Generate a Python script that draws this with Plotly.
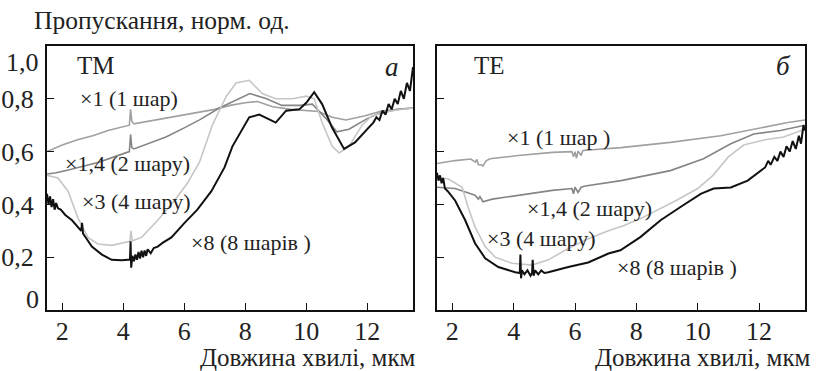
import plotly.graph_objects as go

# ---------------- data ----------------
# Panel a (TM)
tm1_x = [1.5, 2.0, 2.5, 3.0, 3.5, 4.0, 4.2, 4.24, 4.28, 4.35, 4.6, 5.0, 5.5, 6.0, 6.5, 7.0, 7.5, 8.0, 8.4, 8.9, 9.5, 10.0, 10.4, 10.85, 11.3, 11.9, 12.5, 13.0, 13.5]
tm1_y = [0.60, 0.625, 0.645, 0.66, 0.68, 0.695, 0.70, 0.76, 0.715, 0.705, 0.71, 0.72, 0.73, 0.74, 0.75, 0.76, 0.775, 0.785, 0.79, 0.77, 0.76, 0.757, 0.752, 0.73, 0.72, 0.735, 0.755, 0.76, 0.765]

tm2_x = [1.5, 1.8, 2.2, 2.7, 3.2, 3.7, 4.2, 4.24, 4.28, 4.35, 4.7, 5.4, 6.0, 6.5, 7.15, 7.6, 8.15, 8.7, 9.2, 9.8, 10.2, 10.65, 11.0, 11.4, 12.0, 12.4, 13.0, 13.5]
tm2_y = [0.515, 0.52, 0.53, 0.545, 0.56, 0.58, 0.60, 0.665, 0.615, 0.61, 0.625, 0.655, 0.69, 0.72, 0.765, 0.79, 0.82, 0.80, 0.775, 0.775, 0.78, 0.725, 0.675, 0.685, 0.725, 0.745, 0.76, 0.765]

tm4_x = [1.5, 1.86, 2.19, 2.51, 2.84, 3.17, 3.62, 4.15, 4.22, 4.25, 4.3, 4.6, 5.13, 5.68, 6.1, 6.5, 6.92, 7.38, 7.7, 8.13, 8.56, 9.0, 9.54, 10.0, 10.26, 10.52, 10.85, 11.08, 11.4, 11.83, 12.15, 12.8, 13.5]
tm4_y = [0.51, 0.50, 0.45, 0.35, 0.275, 0.25, 0.245, 0.257, 0.26, 0.30, 0.262, 0.275, 0.34, 0.415, 0.48, 0.56, 0.70, 0.81, 0.86, 0.87, 0.82, 0.80, 0.80, 0.81, 0.80, 0.71, 0.62, 0.595, 0.62, 0.70, 0.735, 0.755, 0.765]

tm8_x = [1.5, 1.55, 1.6, 1.65, 1.7, 1.75, 1.8, 1.86, 1.95, 2.1, 2.32, 2.62, 2.65, 2.68, 2.97, 3.3, 3.62, 3.95, 4.15, 4.22, 4.24, 4.26, 4.3, 4.35, 4.4, 4.45, 4.5, 4.55, 4.6, 4.65, 4.7, 4.75, 4.8, 4.9, 5.0, 5.13, 5.3, 5.58, 6.01, 6.43, 6.89, 7.32, 7.58, 8.13, 8.46, 9.0, 9.34, 9.77, 10.0, 10.26, 10.52, 10.85, 11.24, 11.6, 12.0, 12.2, 12.3, 12.4, 12.5, 12.6, 12.7, 12.8, 12.9, 13.0, 13.1, 13.2, 13.3, 13.4, 13.5]
tm8_y = [0.44, 0.40, 0.43, 0.39, 0.42, 0.38, 0.405, 0.385, 0.38, 0.36, 0.34, 0.30, 0.33, 0.29, 0.24, 0.21, 0.19, 0.188, 0.19, 0.19, 0.26, 0.16, 0.205, 0.185, 0.21, 0.19, 0.22, 0.195, 0.225, 0.20, 0.225, 0.205, 0.23, 0.215, 0.235, 0.24, 0.255, 0.275, 0.33, 0.38, 0.45, 0.54, 0.62, 0.73, 0.74, 0.71, 0.755, 0.76, 0.785, 0.825, 0.78, 0.69, 0.61, 0.635, 0.685, 0.71, 0.73, 0.72, 0.755, 0.74, 0.78, 0.76, 0.80, 0.78, 0.83, 0.80, 0.86, 0.83, 0.92]

# Panel б (TE)
te1_x = [1.5, 2.09, 2.6, 2.75, 2.8, 2.85, 2.95, 3.0, 3.1, 3.23, 4.15, 5.26, 5.9, 5.95, 6.0, 6.05, 6.1, 6.2, 6.25, 6.34, 7.5, 9.11, 10.75, 12.06, 12.94, 13.5]
te1_y = [0.555, 0.566, 0.572, 0.56, 0.57, 0.55, 0.55, 0.545, 0.565, 0.573, 0.585, 0.597, 0.60, 0.58, 0.60, 0.575, 0.602, 0.585, 0.603, 0.605, 0.615, 0.635, 0.66, 0.69, 0.71, 0.72]

te2_x = [1.5, 2.09, 2.74, 2.85, 2.9, 3.0, 3.3, 4.15, 5.26, 5.9, 5.95, 6.0, 6.1, 6.2, 6.34, 7.5, 9.11, 10.19, 11.08, 11.83, 12.7, 13.5]
te2_y = [0.465, 0.46, 0.435, 0.42, 0.43, 0.41, 0.42, 0.434, 0.453, 0.46, 0.44, 0.465, 0.445, 0.465, 0.47, 0.49, 0.528, 0.573, 0.63, 0.667, 0.68, 0.70]

te4_x = [1.5, 1.86, 2.32, 2.51, 2.74, 3.07, 3.4, 3.95, 4.6, 5.13, 5.78, 6.43, 7.09, 7.6, 8.2, 9.3, 10.0, 10.5, 11.0, 11.5, 12.2, 12.8, 13.5]
te4_y = [0.50, 0.497, 0.465, 0.39, 0.315, 0.24, 0.20, 0.177, 0.17, 0.19, 0.233, 0.27, 0.30, 0.32, 0.35, 0.415, 0.46, 0.51, 0.58, 0.625, 0.645, 0.655, 0.685]

te8_x = [1.5, 1.55, 1.6, 1.65, 1.7, 1.76, 1.85, 2.09, 2.42, 2.74, 3.07, 3.5, 4.05, 4.2, 4.22, 4.24, 4.27, 4.35, 4.45, 4.55, 4.6, 4.62, 4.65, 4.7, 4.8, 4.9, 5.0, 5.13, 5.78, 6.43, 7.09, 7.48, 8.13, 8.79, 9.44, 10.1, 10.52, 11.08, 11.63, 12.06, 12.2, 12.3, 12.38, 12.5, 12.6, 12.7, 12.8, 12.9, 13.0, 13.1, 13.2, 13.3, 13.37, 13.45, 13.5]
te8_y = [0.52, 0.49, 0.51, 0.48, 0.50, 0.46, 0.45, 0.415, 0.34, 0.253, 0.196, 0.163, 0.143, 0.14, 0.21, 0.12, 0.15, 0.135, 0.15, 0.13, 0.14, 0.19, 0.13, 0.15, 0.135, 0.15, 0.14, 0.143, 0.163, 0.18, 0.214, 0.226, 0.276, 0.34, 0.39, 0.44, 0.46, 0.464, 0.49, 0.528, 0.54, 0.565, 0.55, 0.58, 0.565, 0.60, 0.58, 0.62, 0.60, 0.64, 0.61, 0.66, 0.63, 0.70, 0.68]

x_ticks = [2, 4, 6, 8, 10, 12]
y_ticks = [0, 0.2, 0.4, 0.6, 0.8, 1.0]
y_tick_text = ["0", "0,2", "0,4", "0,6", "0,8", "1,0"]

labels_tm = ["×1 (1 шар)", "×1,4 (2 шару)", "×3 (4 шару)", "×8 (8 шарів )"]
labels_te = ["×1 (1 шар )", "×1,4 (2 шару)", "×3 (4 шару)", "×8 (8 шарів )"]

y_title = "Пропускання, норм. од."
x_title = "Довжина хвилі, мкм"

# ---------------- figure ----------------
FONT = "Liberation Serif, Times New Roman, serif"
W, H = 816, 371
colors = ["#a0a0a0", "#858585", "#c6c6c6", "#111111"]
widths = [1.6, 1.6, 1.6, 2.0]

fig = go.Figure()
tm = [(tm1_x, tm1_y), (tm2_x, tm2_y), (tm4_x, tm4_y), (tm8_x, tm8_y)]
te = [(te1_x, te1_y), (te2_x, te2_y), (te4_x, te4_y), (te8_x, te8_y)]
for (xs, ys), c, w in zip(tm, colors, widths):
    fig.add_trace(go.Scatter(x=xs, y=ys, mode="lines", line=dict(color=c, width=w),
                             xaxis="x", yaxis="y", showlegend=False, hoverinfo="skip"))
for (xs, ys), c, w in zip(te, colors, widths):
    fig.add_trace(go.Scatter(x=xs, y=ys, mode="lines", line=dict(color=c, width=w),
                             xaxis="x2", yaxis="y2", showlegend=False, hoverinfo="skip"))

def px_x(p):
    return p / W

def px_y(p):
    return (H - p) / H

TICKFONT = dict(family=FONT, size=26, color="#222222")
ax_common = dict(showline=True, mirror=True, linewidth=2, linecolor="#111111",
                 ticks="inside", ticklen=7, tickwidth=1.2, tickcolor="#111111",
                 showgrid=False, zeroline=False, automargin=False,
                 tickfont=TICKFONT)

fig.update_layout(
    width=W, height=H,
    margin=dict(l=0, r=0, t=0, b=0),
    paper_bgcolor="white", plot_bgcolor="white",
    xaxis=dict(domain=[px_x(47), px_x(413)], range=[1.5, 13.5], tickvals=x_ticks,
               ticklabelstandoff=-3, **ax_common),
    # inner tick labels on the axis; the two end labels are set slightly inside the frame below
    yaxis=dict(domain=[px_y(310), px_y(46)], range=[0, 1.0], tickvals=y_ticks,
               ticktext=["", *y_tick_text[1:-1], ""], anchor="x",
               ticklabelstandoff=6, **ax_common),
    xaxis2=dict(domain=[px_x(437), px_x(805)], range=[1.5, 13.5], tickvals=x_ticks,
                anchor="y2", ticklabelstandoff=-3, **ax_common),
    yaxis2=dict(domain=[px_y(310), px_y(46)], range=[0, 1.0], tickvals=y_ticks,
                showticklabels=False, anchor="x2", **ax_common),
)

ann = []
def lab(text, x, y, xref, yref, size=22, xanchor="left", color="#222222", italic=False):
    t = f"<i>{text}</i>" if italic else text
    ann.append(dict(text=t, x=x, y=y, xref=xref, yref=yref, showarrow=False,
                    xanchor=xanchor, yanchor="middle",
                    font=dict(family=FONT, size=size, color=color)))

# end tick labels of the y axis (drawn a little inside the frame, as in the source)
ann.append(dict(text=y_tick_text[-1], x=px_x(41), y=y_ticks[-1], xref="paper", yref="y",
                showarrow=False, xanchor="right", yanchor="middle", yshift=-16, font=TICKFONT))
ann.append(dict(text=y_tick_text[0], x=px_x(41), y=y_ticks[0], xref="paper", yref="y",
                showarrow=False, xanchor="right", yanchor="middle", yshift=11, font=TICKFONT))

# curve labels
tm_pos = [(2.51, 0.80), (2.02, 0.555), (2.58, 0.41), (6.17, 0.257)]
te_pos = [(3.72, 0.653), (4.38, 0.385), (3.07, 0.272), (7.32, 0.162)]
for t, (x, y) in zip(labels_tm, tm_pos):
    lab(t, x, y, "x", "y")
for t, (x, y) in zip(labels_te, te_pos):
    lab(t, x, y, "x2", "y2")

# panel marks
lab("TM", 2.42, 0.925, "x", "y", size=25)
lab("а", 12.81, 0.92, "x", "y", size=27, xanchor="center", italic=True)
lab("TE", 2.64, 0.925, "x2", "y2", size=25)
lab("б", 12.81, 0.925, "x2", "y2", size=27, xanchor="center", italic=True)

# titles
ann.append(dict(text=y_title, x=px_x(32), y=px_y(20), xref="paper", yref="paper",
                showarrow=False, xanchor="left", yanchor="middle",
                font=dict(family=FONT, size=25.5, color="#222222")))
ann.append(dict(text=x_title, x=px_x(418), y=px_y(357), xref="paper", yref="paper",
                showarrow=False, xanchor="right", yanchor="middle",
                font=dict(family=FONT, size=25, color="#222222")))
ann.append(dict(text=x_title, x=px_x(813), y=px_y(357), xref="paper", yref="paper",
                showarrow=False, xanchor="right", yanchor="middle",
                font=dict(family=FONT, size=25, color="#222222")))

fig.update_layout(annotations=ann)
fig.write_html("out.html", config={"displayModeBar": False},
               post_script="document.body.style.margin='0';document.body.style.overflow='hidden';")
